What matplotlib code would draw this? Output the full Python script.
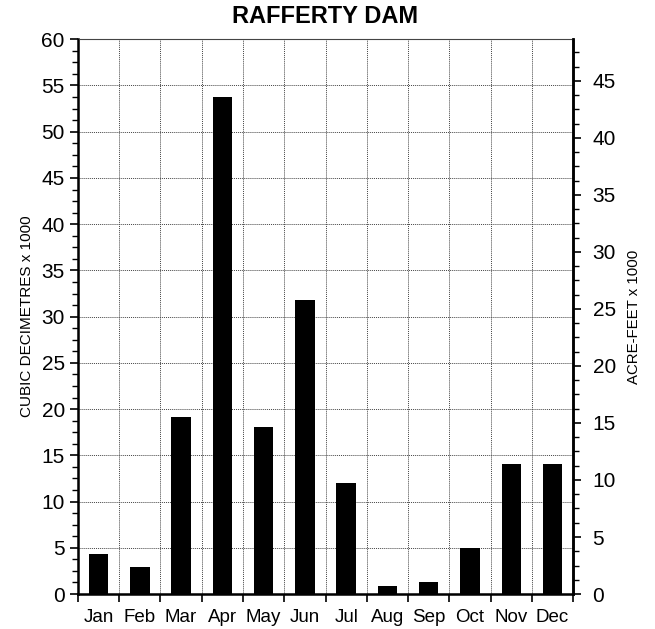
import numpy as np
import matplotlib.pyplot as plt
from matplotlib.ticker import MultipleLocator

months = ["Jan", "Feb", "Mar", "Apr", "May", "Jun", "Jul", "Aug", "Sep", "Oct", "Nov", "Dec"]
volume = [4.35, 2.95, 19.1, 53.8, 18.05, 31.75, 12.05, 0.9, 1.35, 5.0, 14.1, 14.1]
ACRE_FT = 1.2335

plt.rcParams["font.family"] = ["Liberation Sans", "DejaVu Sans"]

fig = plt.figure(figsize=(6.55, 6.29), dpi=100)
ax = fig.add_axes([0.119, 0.0556, 0.756, 0.882])

x = np.arange(len(months))
ax.bar(x, volume, width=0.47, color="black", zorder=3)
ax.set_xlim(-0.5, len(months) - 0.5)
ax.set_ylim(0, 60)

# ticks at month boundaries, labels centred
ax.set_xticks(np.arange(-0.5, len(months), 1))
ax.set_xticklabels([])
ax.set_xticks(x, minor=True)
ax.set_xticklabels(months, minor=True, fontsize=13.5)
ax.tick_params(axis="x", which="major", direction="out", length=6, width=1.2)
ax.tick_params(axis="x", which="minor", length=0, pad=11)

ax.yaxis.set_major_locator(MultipleLocator(5))
ax.yaxis.set_minor_locator(MultipleLocator(1.25))
ax.tick_params(axis="y", which="major", direction="out", length=6, width=1.2, labelsize=15)
ax.tick_params(axis="y", which="minor", direction="out", length=4, width=1)
ax.set_ylabel("CUBIC DECIMETRES x 1000", fontsize=11, labelpad=5)

ax.grid(True, which="major", linestyle=(0, (1, 1)), color="#444444", linewidth=0.7, zorder=0)

for side in ["left", "bottom", "right"]:
    ax.spines[side].set_linewidth(1.8)
ax.spines["top"].set_linewidth(0.8)
ax.spines["top"].set_color("#444444")

ax2 = ax.twinx()
ax2.set_ylim(0, 60 / ACRE_FT)
ax2.yaxis.set_major_locator(MultipleLocator(5))
ax2.yaxis.set_minor_locator(MultipleLocator(1.25))
ax2.tick_params(axis="y", which="major", direction="out", length=6, width=1.2, labelsize=15, pad=8)
ax2.tick_params(axis="y", which="minor", direction="out", length=4, width=1)
ax2.set_ylabel("ACRE-FEET x 1000", fontsize=10.8, labelpad=8)
ax2.spines["right"].set_linewidth(1.8)
ax2.spines["top"].set_visible(False)

ax.set_title("RAFFERTY DAM", fontsize=17, fontweight="bold", pad=12)

fig.savefig("out.png", dpi=100)
